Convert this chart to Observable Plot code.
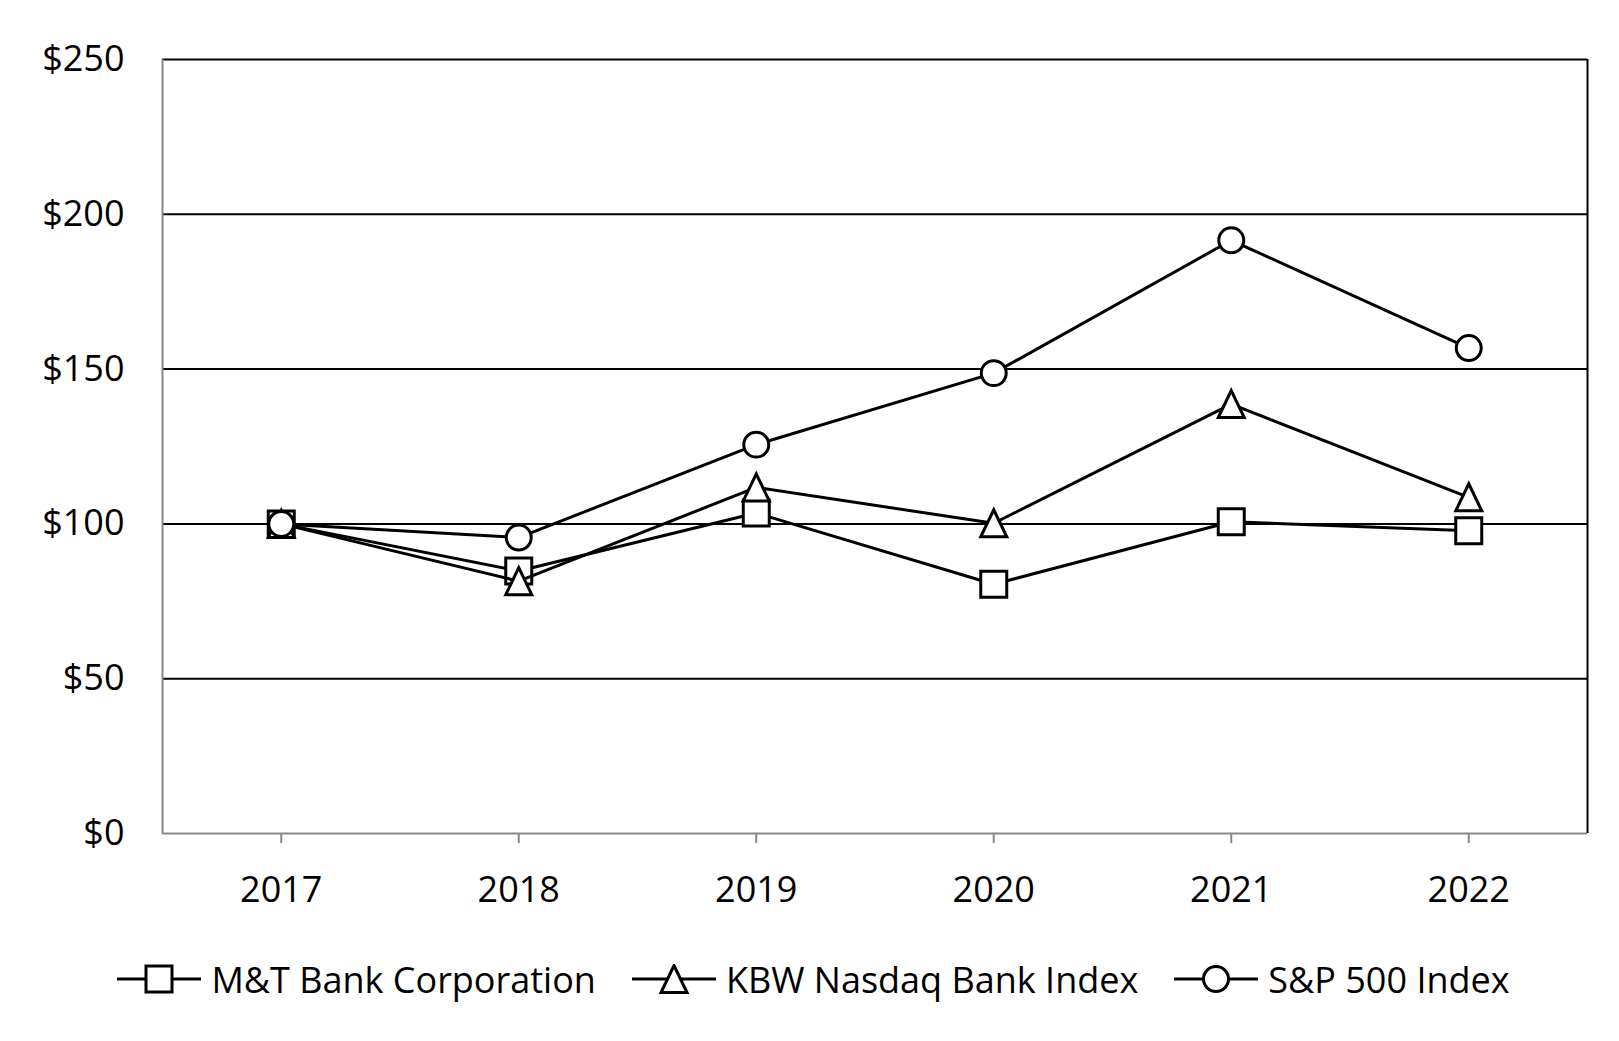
<!DOCTYPE html>
<html><head><meta charset="utf-8">
<script src="https://cdn.jsdelivr.net/npm/d3@7"></script>
<script src="https://cdn.jsdelivr.net/npm/@observablehq/plot@0.6"></script>
<style>
body{margin:0;background:#fff;font-family:"Open Sans",sans-serif;}
#legend{display:flex;justify-content:center;align-items:center;height:118px;gap:36px;font-size:36px;color:#000;padding-left:8px;}
.item{display:flex;align-items:center;}
.item span{margin-left:10px;white-space:nowrap;}
</style></head>
<body>
<div id="chart"></div>
<div id="legend"></div>
<script>
const years = [2017, 2018, 2019, 2020, 2021, 2022];
const mtb = [100, 84.8, 103.5, 80.5, 100.7, 97.8];
const kbw = [100, 81.5, 111.8, 100.2, 138.7, 108.6];
const spx = [100, 95.6, 125.6, 148.7, 191.6, 156.8];
const seriesNames = ["M&T Bank Corporation", "KBW Nasdaq Bank Index", "S&P 500 Index"];
const yTicks = [0, 50, 100, 150, 200, 250];
const xDomain = [2016.5, 2022.5];

const squareSym = {draw(ctx, size){const r=Math.sqrt(size/Math.PI);ctx.moveTo(-r,-r);ctx.lineTo(r,-r);ctx.lineTo(r,r);ctx.lineTo(-r,r);ctx.closePath();}};
const triSym = {draw(ctx, size){const r=Math.sqrt(size/Math.PI);const h=r*1.04;ctx.moveTo(0,-h);ctx.lineTo(r,h);ctx.lineTo(-r,h);ctx.closePath();}};
const circSym = {draw(ctx, size){const r=Math.sqrt(size/Math.PI)*0.96;ctx.moveTo(r,0);ctx.arc(0,0,r,0,2*Math.PI);ctx.closePath();}};
const symbols = [squareSym, triSym, circSym];

const allSeries = [mtb, kbw, spx].map((vals, i) => years.map((yr, j) => ({year: yr, value: vals[j], series: seriesNames[i]})));

const marks = [
  Plot.ruleY(yTicks.filter(d => d > 0), {stroke: "black", strokeWidth: 2}),
  Plot.ruleY([yTicks[0]], {stroke: "#888", strokeWidth: 2}),
  Plot.ruleX([xDomain[0]], {stroke: "#888", strokeWidth: 2}),
  Plot.ruleX([xDomain[1]], {stroke: "black", strokeWidth: 2}),
  Plot.axisX({ticks: years, tickSize: 10, stroke: "#888", strokeWidth: 2, tickFormat: () => ""}),
  Plot.axisX({ticks: years, tickSize: 0, tickPadding: 43, fontSize: 36, tickFormat: d => String(d)}),
  Plot.axisY({ticks: yTicks, tickSize: 0, tickPadding: 38, fontSize: 36, tickFormat: d => "$" + d})
];
allSeries.forEach((data, i) => {
  marks.push(Plot.line(data, {x: "year", y: "value", stroke: "black", strokeWidth: 3}));
  marks.push(Plot.dot(data, {x: "year", y: "value", symbol: () => symbols[i], r: 13, fill: "white", stroke: "black", strokeWidth: 3}));
});

const chart = Plot.plot({
  width: 1619,
  height: 920,
  marginLeft: 162,
  marginRight: 32,
  marginTop: 59,
  marginBottom: 87,
  style: {fontFamily: "Open Sans", fontSize: "36px", color: "black", background: "white"},
  x: {domain: xDomain, label: null},
  y: {domain: [yTicks[0], yTicks[yTicks.length - 1]], label: null},
  symbol: {type: "identity"},
  marks
});
document.getElementById("chart").appendChild(chart);

// legend
const legend = d3.select("#legend");
const legendShapes = [
  s => s.append("rect").attr("x", 29).attr("y", 2).attr("width", 26).attr("height", 26),
  s => s.append("path").attr("d", "M42,1.5L55,28.5L29,28.5Z"),
  s => s.append("circle").attr("cx", 42).attr("cy", 15).attr("r", 12.5)
];
seriesNames.forEach((name, i) => {
  const item = legend.append("div").attr("class", "item");
  const svg = item.append("svg").attr("width", 84).attr("height", 30);
  svg.append("line").attr("x1", 0).attr("x2", 84).attr("y1", 15).attr("y2", 15).attr("stroke", "black").attr("stroke-width", 3);
  legendShapes[i](svg).attr("fill", "white").attr("stroke", "black").attr("stroke-width", 3);
  item.append("span").text(name);
});
</script>
</body></html>
